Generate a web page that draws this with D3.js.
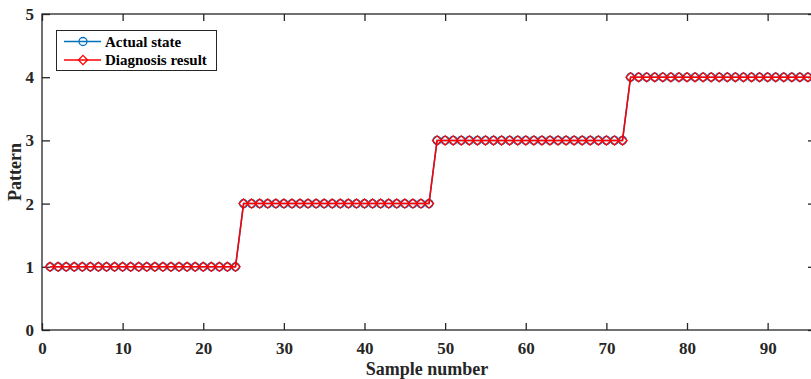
<!DOCTYPE html>
<html><head><meta charset="utf-8">
<script src="https://cdn.jsdelivr.net/npm/d3@7"></script>
<style>body{margin:0;background:#fff}svg{display:block}</style>
</head><body>
<script>
const samples = d3.range(1, 97);
const actualState = [
  1,1,1,1,1,1,1,1,1,1,1,1,1,1,1,1,1,1,1,1,1,1,1,1,
  2,2,2,2,2,2,2,2,2,2,2,2,2,2,2,2,2,2,2,2,2,2,2,2,
  3,3,3,3,3,3,3,3,3,3,3,3,3,3,3,3,3,3,3,3,3,3,3,3,
  4,4,4,4,4,4,4,4,4,4,4,4,4,4,4,4,4,4,4,4,4,4,4,4];
const diagnosisResult = [
  1,1,1,1,1,1,1,1,1,1,1,1,1,1,1,1,1,1,1,1,1,1,1,1,
  2,2,2,2,2,2,2,2,2,2,2,2,2,2,2,2,2,2,2,2,2,2,2,2,
  3,3,3,3,3,3,3,3,3,3,3,3,3,3,3,3,3,3,3,3,3,3,3,3,
  4,4,4,4,4,4,4,4,4,4,4,4,4,4,4,4,4,4,4,4,4,4,4,4];
const xTicks = [0,10,20,30,40,50,60,70,80,90];
const yTicks = [0,1,2,3,4,5];
const seriesNames = ["Actual state", "Diagnosis result"];

const W = 811, H = 379;
const L = 42, R = 816, T = 14, B = 330;
const font = "'Liberation Serif','Times New Roman',serif";
const svg = d3.select("body").append("svg").attr("width", W).attr("height", H);
const x = d3.scaleLinear().domain([0, 96]).range([L, R]);
const y = d3.scaleLinear().domain([0, 5]).range([B, T]);

const ax = "#262626";
// box lines
svg.append("rect").attr("x", L).attr("y", T).attr("width", R - L).attr("height", B - T)
  .attr("fill", "none").attr("stroke", ax).attr("stroke-width", 1.3);

// bottom axis
const gx = svg.append("g").attr("transform", `translate(0,${B})`)
  .call(d3.axisBottom(x).tickValues(xTicks).tickSize(-7).tickPadding(12).tickFormat(d3.format("d")));
// top ticks
const gxt = svg.append("g").attr("transform", `translate(0,${T})`)
  .call(d3.axisTop(x).tickValues(xTicks).tickSize(-7).tickFormat(""));
// left axis
const gy = svg.append("g").attr("transform", `translate(${L},0)`)
  .call(d3.axisLeft(y).tickValues(yTicks).tickSize(-8).tickPadding(8).tickFormat(d3.format("d")));
const gyr = svg.append("g").attr("transform", `translate(${R},0)`)
  .call(d3.axisRight(y).tickValues(yTicks).tickSize(-8).tickFormat(""));
[gx, gxt, gy, gyr].forEach(g => {
  g.select(".domain").remove();
  g.selectAll(".tick line").attr("stroke", ax).attr("stroke-width", 1.3);
  g.selectAll("text").attr("fill", ax).style("font-family", font)
    .style("font-size", "17px").style("font-weight", "bold");
});

// lines
const blue = "#0072BD", red = "#FF0000";
const line = d3.line().x((d, i) => x(samples[i])).y(d => y(d));
svg.append("path").datum(actualState).attr("d", line).attr("fill", "none")
  .attr("stroke", blue).attr("stroke-width", 1.5);
svg.selectAll(".circ").data(actualState).join("circle")
  .attr("cx", (d, i) => x(samples[i])).attr("cy", d => y(d)).attr("r", 4)
  .attr("fill", "none").attr("stroke", blue).attr("stroke-width", 1.3);
svg.append("path").datum(diagnosisResult).attr("d", line).attr("fill", "none")
  .attr("stroke", red).attr("stroke-width", 1.5);
const dia = (cx, cy, s) => `M${cx},${cy - s}L${cx + s},${cy}L${cx},${cy + s}L${cx - s},${cy}Z`;
svg.selectAll(".dia").data(diagnosisResult).join("path")
  .attr("d", (d, i) => dia(x(samples[i]), y(d), 4.6))
  .attr("fill", "none").attr("stroke", red).attr("stroke-width", 1.3);

// axis labels
svg.append("text").attr("x", (L + R) / 2 - 2).attr("y", 375).attr("text-anchor", "middle")
  .attr("fill", ax).style("font-family", font).style("font-size", "18px").style("font-weight", "bold")
  .text("Sample number");
svg.append("text").attr("transform", `translate(21,${(T + B) / 2}) rotate(-90)`)
  .attr("text-anchor", "middle").attr("fill", ax)
  .style("font-family", font).style("font-size", "18px").style("font-weight", "bold")
  .text("Pattern");

// legend
const lg = svg.append("g");
lg.append("rect").attr("x", 56.5).attr("y", 30.5).attr("width", 160).attr("height", 40)
  .attr("fill", "#fff").attr("stroke", ax).attr("stroke-width", 1);
const rows = [
  {name: seriesNames[0], color: blue, y: 41.5, m: "c"},
  {name: seriesNames[1], color: red, y: 60, m: "d"}];
rows.forEach(r => {
  lg.append("line").attr("x1", 64).attr("x2", 101).attr("y1", r.y).attr("y2", r.y)
    .attr("stroke", r.color).attr("stroke-width", 1.5);
  if (r.m === "c") lg.append("circle").attr("cx", 83).attr("cy", r.y).attr("r", 4)
    .attr("fill", "none").attr("stroke", r.color).attr("stroke-width", 1.3);
  else lg.append("path").attr("d", dia(83, r.y, 4.6)).attr("fill", "none")
    .attr("stroke", r.color).attr("stroke-width", 1.3);
  lg.append("text").attr("x", 105).attr("y", r.y + 5).attr("fill", "#000")
    .style("font-family", font).style("font-size", "15px").style("font-weight", "bold").text(r.name);
});
</script>
</body></html>
